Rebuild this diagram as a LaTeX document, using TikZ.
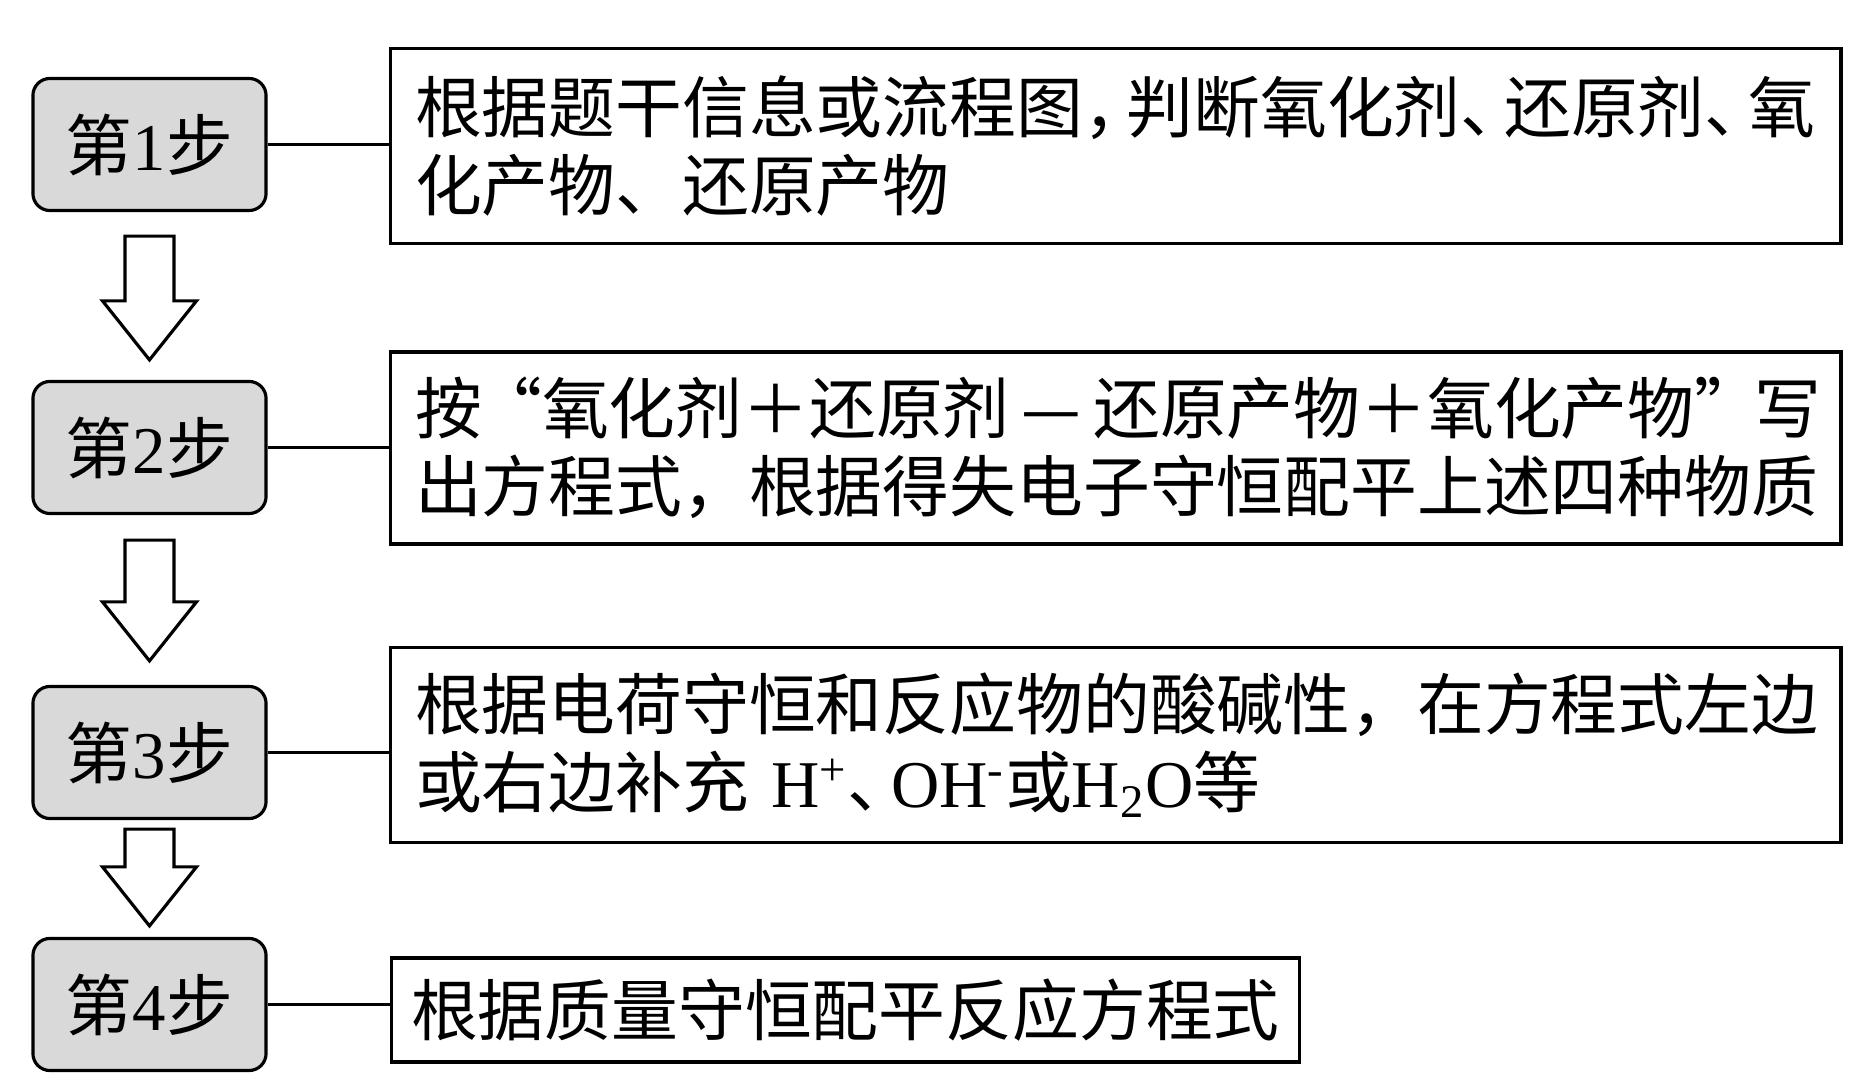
\documentclass[tikz,border=0pt]{standalone}
\usepackage{fontspec}
\setmainfont{Noto Sans CJK SC}
\newfontfamily\latinfont{Liberation Serif}
\usepackage{tikz}
\usetikzlibrary{calc}
\definecolor{stepgray}{HTML}{D9D9D9}
\definecolor{linemain}{HTML}{000000}
\newcommand{\lat}[1]{{\latinfont #1}}
\newcommand{\narrowp}[1]{\makebox[.65em][l]{#1}}
\newcommand{\downblock}[4]{%
  \draw[blockarrow] ($(#1.south)+(-24.5,#3)$) -- ($(#1.south)+(24.5,#3)$)
    -- ($(#2.north)+(24.5,-#4-59)$) -- ($(#2.north)+(47,-#4-59)$)
    -- ($(#2.north)+(0,-#4)$) -- ($(#2.north)+(-47,-#4-59)$)
    -- ($(#2.north)+(-24.5,-#4-59)$) -- cycle;}
\tikzset{
  every node/.append style={font=\fontsize{19pt}{22.2pt}\selectfont},
  stepbox/.style={draw=linemain,line width=.9pt,fill=stepgray,rounded corners=1.7mm,
    minimum width=2.33cm,minimum height=1.32cm,inner sep=0pt},
  infobox/.style={draw=linemain,line width=.9pt,anchor=west,inner xsep=.25cm,inner ysep=0pt,align=left},
  blockarrow/.style={draw=linemain,line width=.9pt,fill=white,line join=miter},
  linkline/.style={draw=linemain,line width=.9pt}
}

\begin{document}
\begin{tikzpicture}[x=0.01cm,y=-0.01cm]
\useasboundingbox (0,0) rectangle (1872,1086);
\node[stepbox] (s1) at (149.5,144.5) {第\lat{1}步};
\node[stepbox] (s2) at (149.5,447.5) {第\lat{2}步};
\node[stepbox] (s3) at (149.5,752.5) {第\lat{3}步};
\node[stepbox] (s4) at (149.5,1004.5) {第\lat{4}步};
\node[infobox,text width=14cm,minimum height=1.95cm] (t1) at (388.5,146)
  {根据题干信息或流程图\narrowp{，}判断氧化剂\narrowp{、}还原剂\narrowp{、}氧\\化产物、还原产物};
\node[infobox,text width=14cm,minimum height=1.92cm] (t2) at (388.5,448)
  {按\makebox[.9em][r]{“}氧化剂＋还原剂\makebox[1.25em]{—}还原产物＋氧化产物\makebox[.9em][l]{”}写\\出方程式，根据得失电子守恒配平上述四种物质};
\node[infobox,text width=14cm,minimum height=1.95cm] (t3) at (388.5,745)
  {根据电荷守恒和反应物的酸碱性，在方程式左边\\或右边补充 \lat{H}\textsuperscript{\lat{+}}\narrowp{、}\lat{OH}\textsuperscript{\lat{-}}或\lat{H}\textsubscript{\lat{2}}\lat{O}等};
\node[infobox,inner xsep=.2cm,minimum width=9.07cm,minimum height=1.04cm] (t4) at (389.5,1010)
  {根据质量守恒配平反应方程式};
\foreach \i in {1,...,4}
  \draw[linkline] (s\i.east) -- (s\i.east -| t\i.west);
\downblock{s1}{s2}{24}{20}
\downblock{s2}{s3}{25}{24}
\downblock{s3}{s4}{9}{11}
\end{tikzpicture}
\end{document}
